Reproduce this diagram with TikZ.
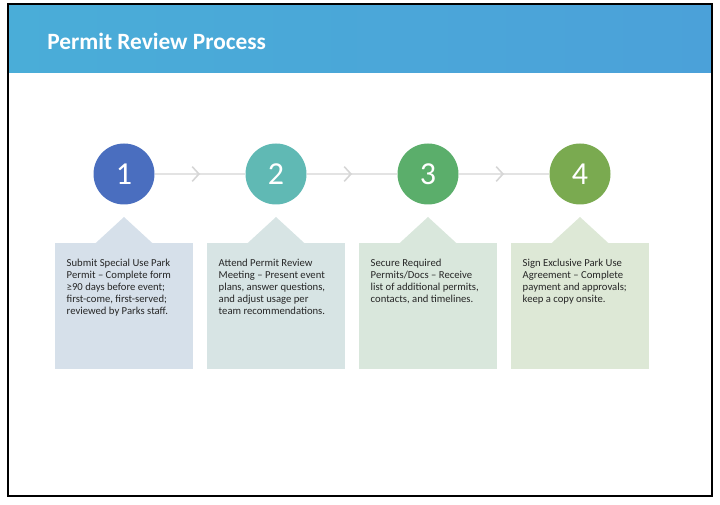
\documentclass[tikz,border=0pt]{standalone}
\usepackage{fontspec}
\setmainfont{Carlito}
\usepackage{tikz}
\usetikzlibrary{arrows.meta, decorations.markings}
\usepackage{xcolor}

\definecolor{headleft}{HTML}{4AADD8}
\definecolor{headright}{HTML}{4BA1D9}
\definecolor{stepone}{HTML}{4A6EBF}
\definecolor{steptwo}{HTML}{60B9B4}
\definecolor{stepthree}{HTML}{5BAE6B}
\definecolor{stepfour}{HTML}{7AAA50}
\definecolor{cardone}{HTML}{D6E0EA}
\definecolor{cardtwo}{HTML}{D7E4E4}
\definecolor{cardthree}{HTML}{D9E7DC}
\definecolor{cardfour}{HTML}{DDE8D6}
\definecolor{linegray}{HTML}{E3E3E3}
\definecolor{chevgray}{HTML}{D6D6D6}
\definecolor{bodytext}{HTML}{262626}

\newcommand{\firstline}{\rule{0pt}{6pt}}

\tikzset{
  numdot/.style={circle, minimum size=45.75pt, inner sep=0pt, text=white,
    font=\fontsize{24}{28}\selectfont},
  link/.style={draw=linegray, line width=1.1pt, postaction={decorate},
    decoration={markings, mark=at position 0.5 with
      {\arrow{Straight Barb[length=5pt, width=11pt, line width=1.2pt, color=chevgray]}}}},
  card/.style={rectangle, minimum width=103.5pt, minimum height=94.5pt,
    anchor=north, inner sep=0pt},
  cardtext/.style={anchor=north west, align=left, inner sep=0pt,
    font=\fontsize{8}{9}\selectfont, text=bodytext}
}

\begin{document}
\begin{tikzpicture}[x=0.75pt, y=-0.75pt]
                \useasboundingbox (0,0) rectangle (720,505);
                % header band
                \shade[left color=headleft, right color=headright] (9,5) rectangle (711,73);
                \node[anchor=base west, inner sep=0pt, text=white,
                  font=\fontsize{17.5}{21}\selectfont\bfseries] (title) at (47,49.5) {Permit Review Process};
                \draw[line width=1.5pt] (8,4) rectangle (712,496);
                % steps
                \node[numdot, fill=stepone] (n1) at (124,174) {1};
                \node[numdot, fill=steptwo] (n2) at (276,174) {2};
                \node[numdot, fill=stepthree] (n3) at (428,174) {3};
                \node[numdot, fill=stepfour] (n4) at (580,174) {4};
                \draw[link] (n1) -- (n2);
                \draw[link] (n2) -- (n3);
                \draw[link] (n3) -- (n4);
                % cards
                \node[card, fill=cardone] (b1) at (124,243) {};
                \node[card, fill=cardtwo] (b2) at (276,243) {};
                \node[card, fill=cardthree] (b3) at (428,243) {};
                \node[card, fill=cardfour] (b4) at (580,243) {};
                \fill[cardone] ([xshift=-21.75pt, yshift=-0.5pt]b1.north) -- ([yshift=19.5pt]b1.north) -- ([xshift=21.75pt, yshift=-0.5pt]b1.north) -- cycle;
                \fill[cardtwo] ([xshift=-21.75pt, yshift=-0.5pt]b2.north) -- ([yshift=19.5pt]b2.north) -- ([xshift=21.75pt, yshift=-0.5pt]b2.north) -- cycle;
                \fill[cardthree] ([xshift=-21.75pt, yshift=-0.5pt]b3.north) -- ([yshift=19.5pt]b3.north) -- ([xshift=21.75pt, yshift=-0.5pt]b3.north) -- cycle;
                \fill[cardfour] ([xshift=-21.75pt, yshift=-0.5pt]b4.north) -- ([yshift=19.5pt]b4.north) -- ([xshift=21.75pt, yshift=-0.5pt]b4.north) -- cycle;
                \node[cardtext] (t1) at ([xshift=8.8pt, yshift=-11.8pt]b1.north west)
                  {\firstline Submit Special Use Park\\Permit -- Complete form\\≥90 days before event;\\first-come, first-served;\\reviewed by Parks staff.};
                \node[cardtext] (t2) at ([xshift=8.8pt, yshift=-11.8pt]b2.north west)
                  {\firstline Attend Permit Review\\Meeting -- Present event\\plans, answer questions,\\and adjust usage per\\team recommendations.};
                \node[cardtext] (t3) at ([xshift=8.8pt, yshift=-11.8pt]b3.north west)
                  {\firstline Secure Required\\Permits/Docs -- Receive\\list of additional permits,\\contacts, and timelines.};
                \node[cardtext] (t4) at ([xshift=8.8pt, yshift=-11.8pt]b4.north west)
                  {\firstline Sign Exclusive Park Use\\Agreement -- Complete\\payment and approvals;\\keep a copy onsite.};
            \end{tikzpicture}
\end{document}
